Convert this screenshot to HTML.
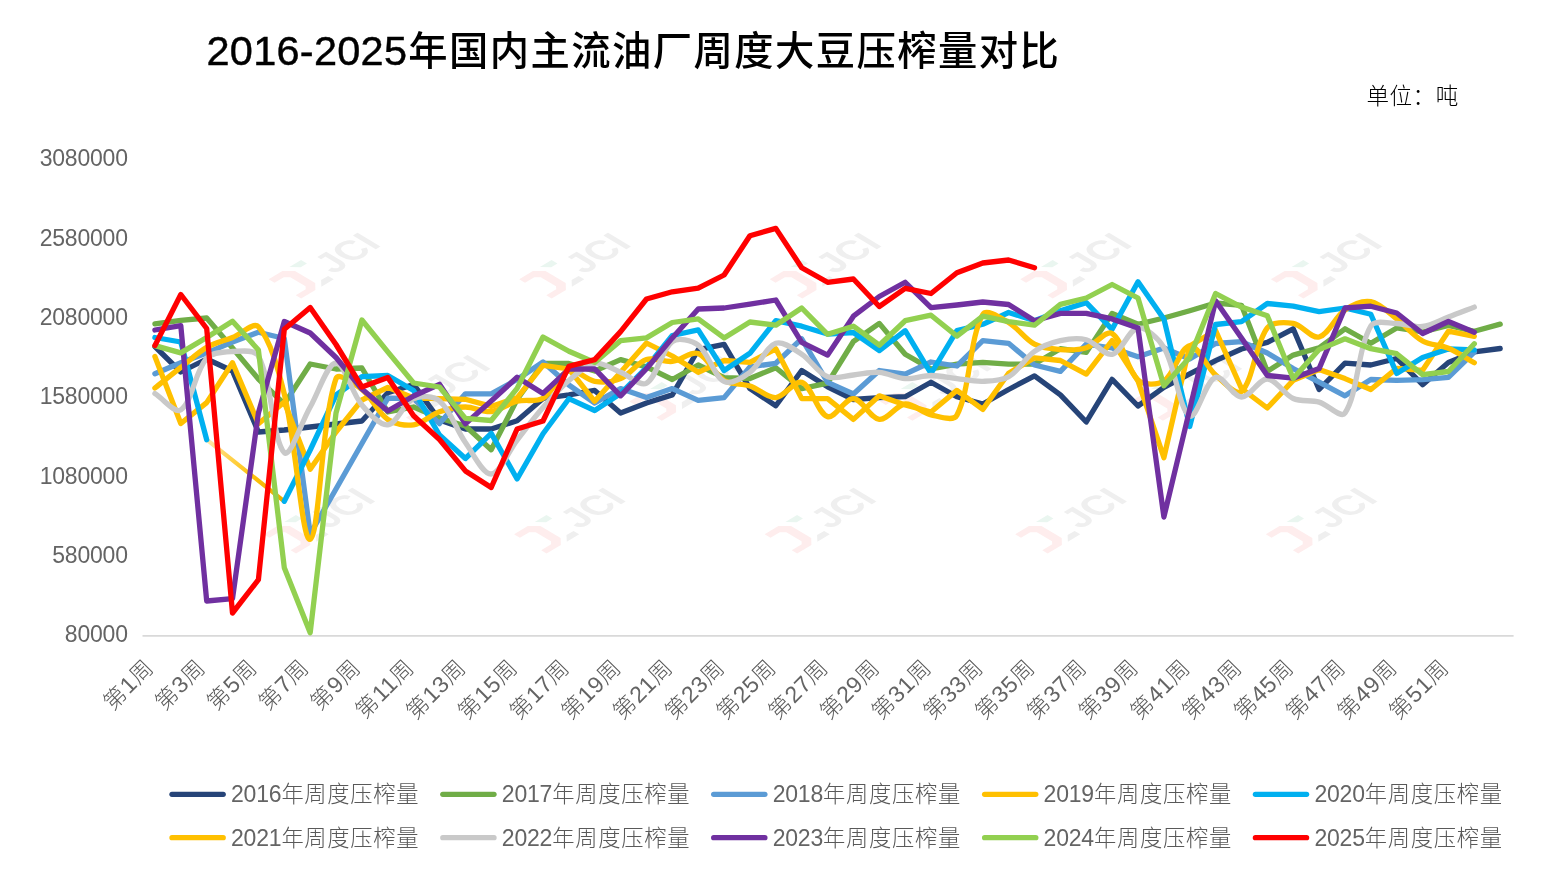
<!DOCTYPE html>
<html lang="zh-CN"><head><meta charset="utf-8"><title>2016-2025年国内主流油厂周度大豆压榨量对比</title>
<style>html,body{margin:0;padding:0;background:#fff}body{width:1559px;height:884px;overflow:hidden}svg{display:block}text{font-family:"Liberation Sans","Noto Sans CJK SC",sans-serif}.t{font-size:39.3px;letter-spacing:1.45px;font-weight:500;fill:#000}.td{font-size:41.5px;letter-spacing:0.25px;stroke:#000;stroke-width:0.45px}.u{font-size:22.6px;letter-spacing:0.45px;font-weight:300;fill:#000}.a{font-size:22.3px;letter-spacing:0.7px;font-weight:300;fill:#595959}.d{font-size:23px;letter-spacing:-0.2px;fill:#646464}.xl{letter-spacing:1.1px}.xl .d{letter-spacing:0.6px}.ln{fill:none;stroke-width:5.3;stroke-linecap:round;stroke-linejoin:round}.wm{font-size:47px;font-weight:700;fill:#efefef}</style></head><body>
<svg width="1559" height="884" viewBox="0 0 1559 884">
<defs><linearGradient id="g20" gradientUnits="userSpaceOnUse" x1="207" y1="440" x2="284" y2="501"><stop offset="0" stop-color="#FFEBAE"/><stop offset="0.3" stop-color="#FFD24D"/><stop offset="0.6" stop-color="#FFC20A"/><stop offset="1" stop-color="#E6AA00"/></linearGradient>
</defs>
<rect width="1559" height="884" fill="#fff"/>
<g transform="translate(324.4 265.4) scale(1,0.6) rotate(-45)"><path d="M-55.8 -23H-36.4L-27.3 -14.3V14.3L-35.3 22.6H-55.5V15H-41.4L-38 11.3V-10.2L-42.6 -14.8H-55.8Z" fill="#feeded"/><path d="M-26.5 -23H-10V-14.7H-18.8Z" fill="#eaf6f0"/><path d="M-19.7 15H-9.7V23H-27.3Z" fill="#efefef"/><text class="wm" transform="translate(-4.2 17.4) scale(0.94 1)">JCI</text></g>
<g transform="translate(574.9 265.4) scale(1,0.6) rotate(-45)"><path d="M-55.8 -23H-36.4L-27.3 -14.3V14.3L-35.3 22.6H-55.5V15H-41.4L-38 11.3V-10.2L-42.6 -14.8H-55.8Z" fill="#feeded"/><path d="M-26.5 -23H-10V-14.7H-18.8Z" fill="#eaf6f0"/><path d="M-19.7 15H-9.7V23H-27.3Z" fill="#efefef"/><text class="wm" transform="translate(-4.2 17.4) scale(0.94 1)">JCI</text></g>
<g transform="translate(825.5 265.4) scale(1,0.6) rotate(-45)"><path d="M-55.8 -23H-36.4L-27.3 -14.3V14.3L-35.3 22.6H-55.5V15H-41.4L-38 11.3V-10.2L-42.6 -14.8H-55.8Z" fill="#feeded"/><path d="M-26.5 -23H-10V-14.7H-18.8Z" fill="#eaf6f0"/><path d="M-19.7 15H-9.7V23H-27.3Z" fill="#efefef"/><text class="wm" transform="translate(-4.2 17.4) scale(0.94 1)">JCI</text></g>
<g transform="translate(1076 265.4) scale(1,0.6) rotate(-45)"><path d="M-55.8 -23H-36.4L-27.3 -14.3V14.3L-35.3 22.6H-55.5V15H-41.4L-38 11.3V-10.2L-42.6 -14.8H-55.8Z" fill="#feeded"/><path d="M-26.5 -23H-10V-14.7H-18.8Z" fill="#eaf6f0"/><path d="M-19.7 15H-9.7V23H-27.3Z" fill="#efefef"/><text class="wm" transform="translate(-4.2 17.4) scale(0.94 1)">JCI</text></g>
<g transform="translate(1326.6 265.4) scale(1,0.6) rotate(-45)"><path d="M-55.8 -23H-36.4L-27.3 -14.3V14.3L-35.3 22.6H-55.5V15H-41.4L-38 11.3V-10.2L-42.6 -14.8H-55.8Z" fill="#feeded"/><path d="M-26.5 -23H-10V-14.7H-18.8Z" fill="#eaf6f0"/><path d="M-19.7 15H-9.7V23H-27.3Z" fill="#efefef"/><text class="wm" transform="translate(-4.2 17.4) scale(0.94 1)">JCI</text></g>
<g transform="translate(434.6 387.6) scale(1,0.6) rotate(-45)"><path d="M-55.8 -23H-36.4L-27.3 -14.3V14.3L-35.3 22.6H-55.5V15H-41.4L-38 11.3V-10.2L-42.6 -14.8H-55.8Z" fill="#feeded"/><path d="M-26.5 -23H-10V-14.7H-18.8Z" fill="#eaf6f0"/><path d="M-19.7 15H-9.7V23H-27.3Z" fill="#efefef"/><text class="wm" transform="translate(-4.2 17.4) scale(0.94 1)">JCI</text></g>
<g transform="translate(685.1 387.6) scale(1,0.6) rotate(-45)"><path d="M-55.8 -23H-36.4L-27.3 -14.3V14.3L-35.3 22.6H-55.5V15H-41.4L-38 11.3V-10.2L-42.6 -14.8H-55.8Z" fill="#feeded"/><path d="M-26.5 -23H-10V-14.7H-18.8Z" fill="#eaf6f0"/><path d="M-19.7 15H-9.7V23H-27.3Z" fill="#efefef"/><text class="wm" transform="translate(-4.2 17.4) scale(0.94 1)">JCI</text></g>
<g transform="translate(935.7 387.6) scale(1,0.6) rotate(-45)"><path d="M-55.8 -23H-36.4L-27.3 -14.3V14.3L-35.3 22.6H-55.5V15H-41.4L-38 11.3V-10.2L-42.6 -14.8H-55.8Z" fill="#feeded"/><path d="M-26.5 -23H-10V-14.7H-18.8Z" fill="#eaf6f0"/><path d="M-19.7 15H-9.7V23H-27.3Z" fill="#efefef"/><text class="wm" transform="translate(-4.2 17.4) scale(0.94 1)">JCI</text></g>
<g transform="translate(1186.2 387.6) scale(1,0.6) rotate(-45)"><path d="M-55.8 -23H-36.4L-27.3 -14.3V14.3L-35.3 22.6H-55.5V15H-41.4L-38 11.3V-10.2L-42.6 -14.8H-55.8Z" fill="#feeded"/><path d="M-26.5 -23H-10V-14.7H-18.8Z" fill="#eaf6f0"/><path d="M-19.7 15H-9.7V23H-27.3Z" fill="#efefef"/><text class="wm" transform="translate(-4.2 17.4) scale(0.94 1)">JCI</text></g>
<g transform="translate(319.3 520.4) scale(1,0.6) rotate(-45)"><path d="M-55.8 -23H-36.4L-27.3 -14.3V14.3L-35.3 22.6H-55.5V15H-41.4L-38 11.3V-10.2L-42.6 -14.8H-55.8Z" fill="#feeded"/><path d="M-26.5 -23H-10V-14.7H-18.8Z" fill="#eaf6f0"/><path d="M-19.7 15H-9.7V23H-27.3Z" fill="#efefef"/><text class="wm" transform="translate(-4.2 17.4) scale(0.94 1)">JCI</text></g>
<g transform="translate(569.8 520.4) scale(1,0.6) rotate(-45)"><path d="M-55.8 -23H-36.4L-27.3 -14.3V14.3L-35.3 22.6H-55.5V15H-41.4L-38 11.3V-10.2L-42.6 -14.8H-55.8Z" fill="#feeded"/><path d="M-26.5 -23H-10V-14.7H-18.8Z" fill="#eaf6f0"/><path d="M-19.7 15H-9.7V23H-27.3Z" fill="#efefef"/><text class="wm" transform="translate(-4.2 17.4) scale(0.94 1)">JCI</text></g>
<g transform="translate(820.4 520.4) scale(1,0.6) rotate(-45)"><path d="M-55.8 -23H-36.4L-27.3 -14.3V14.3L-35.3 22.6H-55.5V15H-41.4L-38 11.3V-10.2L-42.6 -14.8H-55.8Z" fill="#feeded"/><path d="M-26.5 -23H-10V-14.7H-18.8Z" fill="#eaf6f0"/><path d="M-19.7 15H-9.7V23H-27.3Z" fill="#efefef"/><text class="wm" transform="translate(-4.2 17.4) scale(0.94 1)">JCI</text></g>
<g transform="translate(1070.9 520.4) scale(1,0.6) rotate(-45)"><path d="M-55.8 -23H-36.4L-27.3 -14.3V14.3L-35.3 22.6H-55.5V15H-41.4L-38 11.3V-10.2L-42.6 -14.8H-55.8Z" fill="#feeded"/><path d="M-26.5 -23H-10V-14.7H-18.8Z" fill="#eaf6f0"/><path d="M-19.7 15H-9.7V23H-27.3Z" fill="#efefef"/><text class="wm" transform="translate(-4.2 17.4) scale(0.94 1)">JCI</text></g>
<g transform="translate(1321.5 520.4) scale(1,0.6) rotate(-45)"><path d="M-55.8 -23H-36.4L-27.3 -14.3V14.3L-35.3 22.6H-55.5V15H-41.4L-38 11.3V-10.2L-42.6 -14.8H-55.8Z" fill="#feeded"/><path d="M-26.5 -23H-10V-14.7H-18.8Z" fill="#eaf6f0"/><path d="M-19.7 15H-9.7V23H-27.3Z" fill="#efefef"/><text class="wm" transform="translate(-4.2 17.4) scale(0.94 1)">JCI</text></g>
<text class="t" x="206.5" y="65.3"><tspan class="td">2016-2025</tspan><tspan x="408.3" y="64.5">年国内主流油厂周度大豆压榨量对比</tspan></text>
<text class="u" x="1366.5" y="103.5">单位：吨</text>
<text class="a" x="127.8" y="166.2" text-anchor="end"><tspan class="d">3080000</tspan></text>
<text class="a" x="127.8" y="245.5" text-anchor="end"><tspan class="d">2580000</tspan></text>
<text class="a" x="127.8" y="324.9" text-anchor="end"><tspan class="d">2080000</tspan></text>
<text class="a" x="127.8" y="404.2" text-anchor="end"><tspan class="d">1580000</tspan></text>
<text class="a" x="127.8" y="483.5" text-anchor="end"><tspan class="d">1080000</tspan></text>
<text class="a" x="127.8" y="562.9" text-anchor="end"><tspan class="d">580000</tspan></text>
<text class="a" x="127.8" y="642.2" text-anchor="end"><tspan class="d">80000</tspan></text>
<line x1="142.5" y1="635.8" x2="1513.6" y2="635.8" stroke="#D9D9D9" stroke-width="1.7"/>
<text class="a xl" text-anchor="end" transform="translate(155.3 668.8) rotate(-45)">第<tspan class="d">1</tspan>周</text>
<text class="a xl" text-anchor="end" transform="translate(207.1 668.8) rotate(-45)">第<tspan class="d">3</tspan>周</text>
<text class="a xl" text-anchor="end" transform="translate(258.8 668.8) rotate(-45)">第<tspan class="d">5</tspan>周</text>
<text class="a xl" text-anchor="end" transform="translate(310.6 668.8) rotate(-45)">第<tspan class="d">7</tspan>周</text>
<text class="a xl" text-anchor="end" transform="translate(362.3 668.8) rotate(-45)">第<tspan class="d">9</tspan>周</text>
<text class="a xl" text-anchor="end" transform="translate(415.7 668.8) rotate(-45)">第<tspan class="d">11</tspan>周</text>
<text class="a xl" text-anchor="end" transform="translate(467.5 668.8) rotate(-45)">第<tspan class="d">13</tspan>周</text>
<text class="a xl" text-anchor="end" transform="translate(519.2 668.8) rotate(-45)">第<tspan class="d">15</tspan>周</text>
<text class="a xl" text-anchor="end" transform="translate(571 668.8) rotate(-45)">第<tspan class="d">17</tspan>周</text>
<text class="a xl" text-anchor="end" transform="translate(622.7 668.8) rotate(-45)">第<tspan class="d">19</tspan>周</text>
<text class="a xl" text-anchor="end" transform="translate(674.4 668.8) rotate(-45)">第<tspan class="d">21</tspan>周</text>
<text class="a xl" text-anchor="end" transform="translate(726.2 668.8) rotate(-45)">第<tspan class="d">23</tspan>周</text>
<text class="a xl" text-anchor="end" transform="translate(777.9 668.8) rotate(-45)">第<tspan class="d">25</tspan>周</text>
<text class="a xl" text-anchor="end" transform="translate(829.7 668.8) rotate(-45)">第<tspan class="d">27</tspan>周</text>
<text class="a xl" text-anchor="end" transform="translate(881.4 668.8) rotate(-45)">第<tspan class="d">29</tspan>周</text>
<text class="a xl" text-anchor="end" transform="translate(933.1 668.8) rotate(-45)">第<tspan class="d">31</tspan>周</text>
<text class="a xl" text-anchor="end" transform="translate(984.9 668.8) rotate(-45)">第<tspan class="d">33</tspan>周</text>
<text class="a xl" text-anchor="end" transform="translate(1036.6 668.8) rotate(-45)">第<tspan class="d">35</tspan>周</text>
<text class="a xl" text-anchor="end" transform="translate(1088.4 668.8) rotate(-45)">第<tspan class="d">37</tspan>周</text>
<text class="a xl" text-anchor="end" transform="translate(1140.1 668.8) rotate(-45)">第<tspan class="d">39</tspan>周</text>
<text class="a xl" text-anchor="end" transform="translate(1191.8 668.8) rotate(-45)">第<tspan class="d">41</tspan>周</text>
<text class="a xl" text-anchor="end" transform="translate(1243.6 668.8) rotate(-45)">第<tspan class="d">43</tspan>周</text>
<text class="a xl" text-anchor="end" transform="translate(1295.3 668.8) rotate(-45)">第<tspan class="d">45</tspan>周</text>
<text class="a xl" text-anchor="end" transform="translate(1347.1 668.8) rotate(-45)">第<tspan class="d">47</tspan>周</text>
<text class="a xl" text-anchor="end" transform="translate(1398.8 668.8) rotate(-45)">第<tspan class="d">49</tspan>周</text>
<text class="a xl" text-anchor="end" transform="translate(1450.5 668.8) rotate(-45)">第<tspan class="d">51</tspan>周</text>
<path class="ln" stroke="#264478" d="M154.9 346.5 L180.8 372 L206.7 359 L232.5 371 L258.4 432 L284.3 430 L310.2 427 L336 424 L361.9 421 L387.8 392.8 L413.6 384.4 L439.5 420 L465.4 429 L491.2 429 L517.1 420.8 L543 398.5 L568.9 394.9 L594.7 390.4 L620.6 413 L646.5 403 L672.3 394.9 L698.2 349.7 L724.1 344.3 L749.9 388.6 L775.8 405.8 L801.7 370.5 L827.6 386.8 L853.4 399.5 L879.3 397.6 L905.2 396.7 L931 382.2 L956.9 396.7 L982.8 404 L1008.6 389.5 L1034.5 375.9 L1060.4 394.9 L1086.3 422 L1112.1 379.4 L1138 406 L1163.9 387.3 L1189.7 373.8 L1215.6 360.6 L1241.5 349 L1267.3 342.4 L1293.2 328.8 L1319.1 389.5 L1345 363.2 L1370.8 365 L1396.7 358.5 L1422.6 384.7 L1448.4 362.5 L1474.3 351.9 L1500.2 348.5"/>
<path class="ln" stroke="#70AD47" d="M154.9 323.9 L180.8 320.3 L206.7 318 L232.5 348 L258.4 379 L284.3 404 L310.2 364 L336 369 L361.9 368 L387.8 412 L413.6 407 L439.5 418 L465.4 426 L491.2 449.8 L517.1 399.5 L543 363.5 L568.9 363.5 L594.7 371 L620.6 359.6 L646.5 366.9 L672.3 379.5 L698.2 365 L724.1 377.7 L749.9 378.5 L775.8 367.8 L801.7 388.6 L827.6 383.2 L853.4 341.5 L879.3 323.4 L905.2 354.2 L931 369 L956.9 364.1 L982.8 362.3 L1008.6 364.1 L1034.5 364 L1060.4 348.7 L1086.3 352.4 L1112.1 313.4 L1138 324.3 L1163.9 318 L1189.7 310.7 L1215.6 303 L1241.5 305.3 L1267.3 371.4 L1293.2 355.1 L1319.1 347.8 L1345 328.8 L1370.8 343.3 L1396.7 328 L1422.6 332 L1448.4 325.5 L1474.3 331.3 L1500.2 324.1"/>
<path class="ln" stroke="#5B9BD5" d="M154.9 373.7 L180.8 362.8 L206.7 352.9 L232.5 342 L258.4 332.2 L284.3 338.5 L310.2 534 L336 489 L361.9 443.5 L387.8 398.1 L413.6 398.7 L439.5 423.6 L465.4 393.8 L491.2 393.8 L517.1 379.5 L543 362 L568.9 385 L594.7 403 L620.6 388.6 L646.5 397.6 L672.3 388.6 L698.2 400.4 L724.1 397.6 L749.9 366.9 L775.8 363.3 L801.7 338.8 L827.6 382.3 L853.4 394 L879.3 370.5 L905.2 374.1 L931 362 L956.9 366 L982.8 340.6 L1008.6 343.3 L1034.5 365 L1060.4 371.4 L1086.3 344.2 L1112.1 348 L1138 356.8 L1163.9 348 L1189.7 359 L1215.6 343.5 L1241.5 341.7 L1267.3 353 L1293.2 368.6 L1319.1 382.2 L1345 395.8 L1370.8 379.5 L1396.7 380.4 L1422.6 379.6 L1448.4 377.3 L1474.3 352"/>
<path class="ln" stroke="#FFC000" d="M154.9 356.5 L180.8 423.5 L206.7 402.6 L232.5 362.8 L258.4 423.7 L284.3 402 L310.2 469.2 L336 432 L361.9 400 L387.8 387.4 L413.6 398 L439.5 398.7 L465.4 399.3 L491.2 406.4 L517.1 397.8 L543 365.4 L568.9 369 L594.7 401.3 L620.6 372.3 L646.5 343 L672.3 356 L698.2 372.3 L724.1 360.5 L749.9 362.4 L775.8 348.8 L801.7 398.6 L827.6 398.6 L853.4 419.4 L879.3 395.8 L905.2 404.9 L931 412 L956.9 390.4 L982.8 409.4 L1008.6 373.2 L1034.5 357.8 L1060.4 360.5 L1086.3 374.1 L1112.1 340.5 L1138 381 L1163.9 457.7 L1189.7 346 L1215.6 330.5 L1241.5 388.5 L1267.3 408 L1293.2 380.4 L1319.1 369.5 L1345 378.6 L1370.8 389.5 L1396.7 368.4 L1422.6 370.3 L1448.4 331.2 L1474.3 336.3"/>
<path d="M206.7 439.7 L284.3 501.3" fill="none" stroke="url(#g20)" stroke-width="4.2" stroke-linecap="round"/>
<path class="ln" stroke="#00B0F0" d="M154.9 337.5 L180.8 342 L206.7 439.7"/>
<path class="ln" stroke="#00B0F0" d="M284.3 501.3 L310.2 450 L336 395 L361.9 376.7 L387.8 375.5 L413.6 390.5 L439.5 435 L465.4 458.5 L491.2 433.4 L517.1 479 L543 433.8 L568.9 398.7 L594.7 410.5 L620.6 393.5 L646.5 367.5 L672.3 335.5 L698.2 329.8 L724.1 370.5 L749.9 353.3 L775.8 320.7 L801.7 326.2 L827.6 334 L853.4 332.5 L879.3 350.6 L905.2 330.7 L931 373.5 L956.9 330.6 L982.8 324.3 L1008.6 312.5 L1034.5 320.7 L1060.4 310.7 L1086.3 302.6 L1112.1 329.3 L1138 281.8 L1163.9 318.9 L1189.7 426.5 L1215.6 324.5 L1241.5 321.6 L1267.3 303.5 L1293.2 306.2 L1319.1 311.6 L1345 308 L1370.8 314.3 L1396.7 373.4 L1422.6 357.5 L1448.4 349 L1474.3 349.9"/>
<path class="ln" stroke="#FFC000" d="M154.9 388 C163.6 381.1 172.1 374.2 180.8 367.4 C189.4 360.7 197.3 352.8 206.7 347.4 C214.6 342.8 224 340.9 232.5 337.5 C241.2 334 253.6 321.5 258.4 326.8 C270.8 340.4 278.6 370.8 284.3 394 C295.9 441.6 302 541.7 310.2 539.3 C319.2 536.6 321.3 421.3 336 378.7 C338.6 371.4 354.7 383.9 361.9 389.5 C372 397.5 377.4 412.4 387.8 419.5 C394.7 424.2 405.4 426 413.6 424.8 C422.7 423.5 430.5 414.9 439.5 411.8 C447.7 409 456.7 407 465.4 407 C474 407 482.9 412.5 491.2 411.6 C500.1 410.6 508.2 403.6 517.1 401.3 C525.5 399.1 536 402.4 543 398.2 C553.2 392.1 558.9 373.7 568.9 370.5 C576.2 368.1 585.8 379.9 594.7 381.3 C603 382.6 612.9 381.8 620.6 378.6 C630.1 374.6 636.9 362.8 646.5 359.6 C654.2 357 663.9 362.4 672.3 361.4 C681.1 360.4 691 350.8 698.2 353.5 C708.2 357.2 714 374.2 724.1 380.5 C731.2 385 741.6 383.2 749.9 386 C758.9 388.9 767.4 398.2 775.8 397.6 C784.7 397 794.6 379.7 801.7 382.3 C811.8 386 817.6 413.5 827.6 416.6 C834.9 418.9 845 398.1 853.4 398.6 C862.3 399.1 870.3 418.5 879.3 419.4 C887.5 420.3 896.2 404.8 905.2 404 C913.5 403.3 922.1 412.9 931 414.8 C939.3 416.6 953.5 421.9 956.9 415.2 C970.7 388.4 969.1 339 982.8 314.5 C986.3 308.1 1001 318.1 1008.6 322.5 C1018.2 328 1024.8 339.1 1034.5 344.2 C1042.1 348.2 1051.7 349 1060.4 349.6 C1068.9 350.2 1078.2 350.3 1086.3 347.8 C1095.4 344.9 1106 329.6 1112.1 333.4 C1123.2 340.3 1126.4 369.3 1138 380 C1143.6 385.2 1157.4 385.2 1163.9 381 C1174.7 373.8 1180.6 346.9 1189.7 345.8 C1197.9 344.9 1206 366.5 1215.6 375 C1223.2 381.7 1236.1 396.3 1241.5 391.5 C1253.4 380.6 1254.9 344.3 1267.3 327.9 C1272.1 321.6 1285.1 322 1293.2 323.4 C1302.3 325 1311.5 339 1319.1 337 C1328.8 334.5 1335 316.8 1345 310 C1352.2 305 1362.8 300.3 1370.8 301.7 C1380 303.3 1388.4 312.7 1396.7 319 C1405.7 325.8 1412.9 335.6 1422.6 341 C1430.2 345.3 1440.2 344.7 1448.4 348.2 C1457.5 352 1465.7 357.9 1474.3 362.8"/>
<path class="ln" stroke="#C9C9C9" d="M154.9 393.6 C163.6 399 174.8 414 180.8 409.9 C192.1 402.2 194.9 371.6 206.7 358.3 C212.1 352.1 223.8 351.9 232.5 351.5 C241.1 351.1 254.8 349 258.4 356 C272.1 382.7 273 441.4 284.3 452.6 C290.2 458.4 301.4 422.1 310.2 407 C318.7 392.3 327.3 363.3 336 363 C344.5 362.7 351.5 392.6 361.9 405 C368.8 413.2 379.7 425.8 387.8 424.8 C396.9 423.7 403.5 403.3 413.6 398.7 C420.8 395.4 433.5 395.9 439.5 401 C450.8 410.5 456 429.2 465.4 442.5 C473.2 453.6 482.8 474.4 491.2 474 C500.1 473.6 508.4 451.2 517.1 440 C525.6 429.1 533.9 417.9 543 407.5 C551.2 398.1 559.4 388.5 568.9 380.5 C576.7 373.8 585.6 364.8 594.7 363.3 C602.8 362 612.1 369 620.6 372.3 C629.3 375.7 640.2 386.9 646.5 383.2 C657.4 376.7 661.1 349.8 672.3 341.5 C678.3 337.1 691.8 340.3 698.2 345.2 C709.1 353.6 713.4 375.8 724.1 381.4 C730.7 384.8 742.8 377.6 749.9 372.3 C760.1 364.9 765.8 346.8 775.8 343.3 C783 340.8 793.9 349.2 801.7 354.2 C811.2 360.3 817.7 372.8 827.6 376.8 C835 379.8 844.8 375.7 853.4 375 C862.1 374.2 870.8 371.7 879.3 372.3 C888 372.9 896.4 378.1 905.2 378.6 C913.7 379.1 922.4 375.5 931 375.5 C939.7 375.5 948.3 377.6 956.9 378.6 C965.5 379.6 974.2 381.6 982.8 381.3 C991.4 381 1001.4 381 1008.6 376.8 C1018.6 371 1024.8 358.2 1034.5 351.4 C1042 346.1 1051.4 342.6 1060.4 340.6 C1068.7 338.7 1078.2 337.6 1086.3 339.7 C1095.5 342.1 1104.4 356 1112.1 354.3 C1121.7 352.1 1128.8 329.2 1138 328 C1146.1 326.9 1158.6 338.5 1163.9 347.5 C1175.8 367.8 1179.2 409.9 1189.7 416 C1196.4 419.9 1205.5 381 1215.6 377.3 C1222.7 374.7 1232.7 396.7 1241.5 397 C1250 397.3 1258.8 378.8 1267.3 379 C1276.1 379.3 1283.7 394.2 1293.2 398.5 C1300.9 401.9 1310.8 399.8 1319.1 402.1 C1328 404.6 1340.9 419 1345 413 C1358.1 393.6 1357.4 349.2 1370.8 326 C1374.7 319.4 1388.1 323.4 1396.7 323.5 C1405.3 323.6 1414.2 327.6 1422.6 326.5 C1431.4 325.4 1439.8 320.2 1448.4 317 C1457.1 313.8 1465.7 310.4 1474.3 307.1"/>
<path class="ln" stroke="#7030A0" d="M154.9 330 L180.8 325.7 L206.7 601 L232.5 598.7 L258.4 413 L284.3 321.5 L310.2 333 L336 357.5 L361.9 389 L387.8 411 L413.6 396 L439.5 384.3 L465.4 423.7 L491.2 401 L517.1 377.3 L543 393.4 L568.9 369.2 L594.7 368.8 L620.6 395.8 L646.5 368.7 L672.3 337.9 L698.2 309 L724.1 308 L749.9 304.2 L775.8 300 L801.7 342.4 L827.6 355.1 L853.4 316.2 L879.3 296.5 L905.2 282.3 L931 307.7 L956.9 305 L982.8 302 L1008.6 304.5 L1034.5 320.7 L1060.4 313.4 L1086.3 313.4 L1112.1 318.9 L1138 328 L1163.9 517 L1189.7 409.5 L1215.6 300.8 L1241.5 337.9 L1267.3 375.5 L1293.2 378.2 L1319.1 368.6 L1345 308 L1370.8 306.2 L1396.7 313 L1422.6 333.5 L1448.4 321.5 L1474.3 332.2"/>
<path class="ln" stroke="#92D050" d="M154.9 345.6 L180.8 352.9 L206.7 337.5 L232.5 321.2 L258.4 350 L284.3 567.8 L310.2 632.7 L336 413 L361.9 320 L387.8 351.8 L413.6 383 L439.5 387 L465.4 418.4 L491.2 420.5 L517.1 388.4 L543 337 L568.9 351.2 L594.7 362.4 L620.6 340.6 L646.5 337.9 L672.3 322.5 L698.2 318.9 L724.1 337.9 L749.9 322 L775.8 325.2 L801.7 308 L827.6 334.3 L853.4 326.2 L879.3 345.2 L905.2 320.7 L931 315.2 L956.9 336.1 L982.8 316.2 L1008.6 321.6 L1034.5 325.2 L1060.4 304.4 L1086.3 298 L1112.1 284.5 L1138 298 L1163.9 385.8 L1189.7 357.5 L1215.6 293.5 L1241.5 307.1 L1267.3 315.7 L1293.2 378.6 L1319.1 349.6 L1345 338.8 L1370.8 348.7 L1396.7 353.7 L1422.6 374.6 L1448.4 371.5 L1474.3 343.8"/>
<path class="ln" stroke="#FF0000" d="M154.9 345.6 L180.8 294.5 L206.7 328.5 L232.5 613 L258.4 579.7 L284.3 329.2 L310.2 307.5 L336 344.5 L361.9 387 L387.8 377.5 L413.6 415.8 L439.5 439.5 L465.4 470.9 L491.2 487.5 L517.1 429 L543 421 L568.9 366.3 L594.7 359.6 L620.6 331.6 L646.5 299 L672.3 291.8 L698.2 288.2 L724.1 275 L749.9 235.8 L775.8 228.4 L801.7 267.7 L827.6 282.3 L853.4 279 L879.3 306.5 L905.2 288.3 L931 293.5 L956.9 272.8 L982.8 263 L1008.6 260 L1034.5 267.7"/>
<line x1="172" y1="794.3" x2="223.2" y2="794.3" stroke="#264478" stroke-width="5.3" stroke-linecap="round"/>
<text class="a" x="231" y="802.4"><tspan class="d">2016</tspan>年周度压榨量</text>
<line x1="442.8" y1="794.3" x2="494" y2="794.3" stroke="#70AD47" stroke-width="5.3" stroke-linecap="round"/>
<text class="a" x="501.8" y="802.4"><tspan class="d">2017</tspan>年周度压榨量</text>
<line x1="713.7" y1="794.3" x2="764.9" y2="794.3" stroke="#5B9BD5" stroke-width="5.3" stroke-linecap="round"/>
<text class="a" x="772.7" y="802.4"><tspan class="d">2018</tspan>年周度压榨量</text>
<line x1="984.6" y1="794.3" x2="1035.8" y2="794.3" stroke="#FFC000" stroke-width="5.3" stroke-linecap="round"/>
<text class="a" x="1043.6" y="802.4"><tspan class="d">2019</tspan>年周度压榨量</text>
<line x1="1255.4" y1="794.3" x2="1306.6" y2="794.3" stroke="#00B0F0" stroke-width="5.3" stroke-linecap="round"/>
<text class="a" x="1314.4" y="802.4"><tspan class="d">2020</tspan>年周度压榨量</text>
<line x1="172" y1="837.7" x2="223.2" y2="837.7" stroke="#FFC000" stroke-width="5.3" stroke-linecap="round"/>
<text class="a" x="231" y="845.8"><tspan class="d">2021</tspan>年周度压榨量</text>
<line x1="442.8" y1="837.7" x2="494" y2="837.7" stroke="#C9C9C9" stroke-width="5.3" stroke-linecap="round"/>
<text class="a" x="501.8" y="845.8"><tspan class="d">2022</tspan>年周度压榨量</text>
<line x1="713.7" y1="837.7" x2="764.9" y2="837.7" stroke="#7030A0" stroke-width="5.3" stroke-linecap="round"/>
<text class="a" x="772.7" y="845.8"><tspan class="d">2023</tspan>年周度压榨量</text>
<line x1="984.6" y1="837.7" x2="1035.8" y2="837.7" stroke="#92D050" stroke-width="5.3" stroke-linecap="round"/>
<text class="a" x="1043.6" y="845.8"><tspan class="d">2024</tspan>年周度压榨量</text>
<line x1="1255.4" y1="837.7" x2="1306.6" y2="837.7" stroke="#FF0000" stroke-width="5.3" stroke-linecap="round"/>
<text class="a" x="1314.4" y="845.8"><tspan class="d">2025</tspan>年周度压榨量</text>
</svg></body></html>
